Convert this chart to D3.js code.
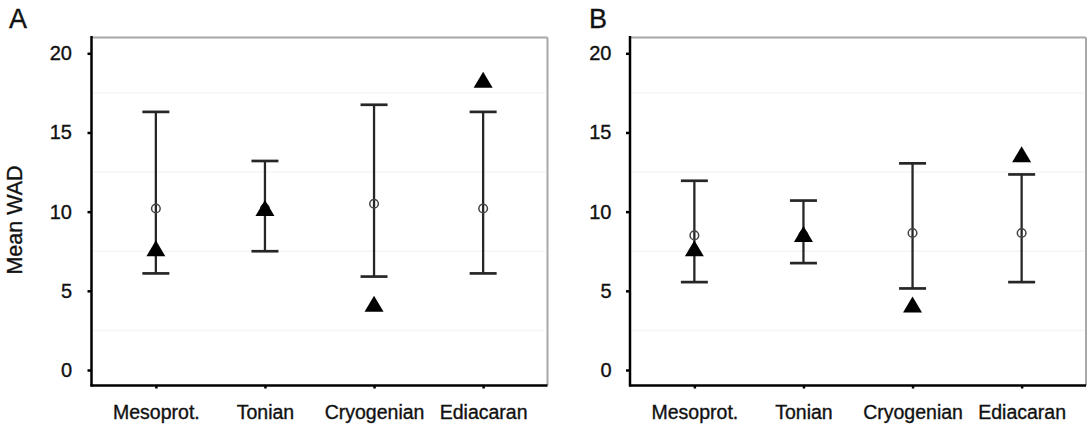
<!DOCTYPE html>
<html>
<head>
<meta charset="utf-8">
<script src="https://cdn.jsdelivr.net/npm/d3@7"></script>
<style>
  html, body { margin: 0; padding: 0; background: #fff; }
  svg { display: block; }
  text { font-family: "Liberation Sans", Arial, Helvetica, sans-serif; fill: #111; stroke: #111; stroke-width: 0.35px; }
</style>
</head>
<body>
<svg id="chart" width="1090" height="427"></svg>
<script>
// ---- data ----
const categories = ["Mesoprot.", "Tonian", "Cryogenian", "Ediacaran"];
const yTicks = [0, 5, 10, 15, 20];
const gridValues = [2.5, 7.5, 12.5, 17.5];

const upperA    = [16.3, 13.2, 16.75, 16.3];
const lowerA    = [6.1, 7.5, 5.9, 6.1];
const meanA     = [10.2, 10.2, 10.5, 10.2];
const triangleA = [7.65, 10.2, 4.15, 18.3];

const upperB    = [11.95, 10.7, 13.05, 12.35];
const lowerB    = [5.55, 6.75, 5.15, 5.55];
const meanB     = [8.5, 8.5, 8.65, 8.65];
const triangleB = [7.65, 8.55, 4.1, 13.6];

const panelLabels = ["A", "B"];
const yLabel = "Mean WAD";

// ---- layout ----
const svg = d3.select("#chart");
const frameTop = 37.5, frameBottom = 385.5;
const y = d3.scaleLinear().domain([0, 20]).range([370, 53.3]);

const panels = [
  { label: panelLabels[0], left: 91.5, right: 547.5, upper: upperA, lower: lowerA, mean: meanA, tri: triangleA, labelX: 9, tickOff: 19.5 },
  { label: panelLabels[1], left: 630, right: 1086, upper: upperB, lower: lowerB, mean: meanB, tri: triangleB, labelX: 589, tickOff: 18.5 }
];

panels.forEach(p => {
  const g = svg.append("g");
  const x = d3.scalePoint().domain(categories).range([p.left, p.right]).padding(0.59);

  // faint grid
  g.selectAll("line.grid").data(gridValues).enter().append("line")
    .attr("x1", p.left + 2).attr("x2", p.right - 2)
    .attr("y1", d => y(d)).attr("y2", d => y(d))
    .attr("stroke", "#f5f5f5").attr("stroke-width", 1.5);

  // top & right frame (grey)
  g.append("line").attr("x1", p.left).attr("x2", p.right).attr("y1", frameTop).attr("y2", frameTop)
    .attr("stroke", "#a8a8a8").attr("stroke-width", 2);
  g.append("line").attr("x1", p.right).attr("x2", p.right).attr("y1", frameTop).attr("y2", frameBottom)
    .attr("stroke", "#a8a8a8").attr("stroke-width", 2);

  // left axis
  const yAxis = d3.axisLeft(y).tickValues(yTicks).tickSize(4).tickPadding(p.tickOff - 4);
  const ya = g.append("g").attr("transform", `translate(${p.left},0)`).call(yAxis);
  ya.select(".domain").remove();
  ya.selectAll(".tick line").attr("stroke", "#000").attr("stroke-width", 2.5);
  ya.selectAll(".tick text").attr("font-size", 20).attr("fill", "#111")
    .attr("font-family", '"Liberation Sans", Arial, Helvetica, sans-serif');
  g.append("line").attr("x1", p.left).attr("x2", p.left).attr("y1", frameTop - 1.5).attr("y2", frameBottom + 1)
    .attr("stroke", "#000").attr("stroke-width", 2.5);

  // bottom axis
  const xAxis = d3.axisBottom(x).tickSize(3).tickPadding(17);
  const xa = g.append("g").attr("transform", `translate(0,${frameBottom})`).call(xAxis);
  xa.select(".domain").remove();
  xa.selectAll(".tick line").attr("stroke", "#000").attr("stroke-width", 2.5);
  xa.selectAll(".tick text").attr("font-size", 19.5).attr("fill", "#111")
    .attr("font-family", '"Liberation Sans", Arial, Helvetica, sans-serif');
  g.append("line").attr("x1", p.left - 1).attr("x2", p.right).attr("y1", frameBottom).attr("y2", frameBottom)
    .attr("stroke", "#000").attr("stroke-width", 2.5);

  // error bars
  const capW = 13.5;
  const rows = categories.map((c, i) => ({ c, hi: p.upper[i], lo: p.lower[i], m: p.mean[i], t: p.tri[i] }));
  const eb = g.selectAll("g.eb").data(rows).enter().append("g");
  eb.append("line").attr("x1", d => x(d.c)).attr("x2", d => x(d.c))
    .attr("y1", d => y(d.hi)).attr("y2", d => y(d.lo))
    .attr("stroke", "#262626").attr("stroke-width", 2.3);
  eb.append("line").attr("x1", d => x(d.c) - capW).attr("x2", d => x(d.c) + capW)
    .attr("y1", d => y(d.hi)).attr("y2", d => y(d.hi))
    .attr("stroke", "#262626").attr("stroke-width", 2.7);
  eb.append("line").attr("x1", d => x(d.c) - capW).attr("x2", d => x(d.c) + capW)
    .attr("y1", d => y(d.lo)).attr("y2", d => y(d.lo))
    .attr("stroke", "#262626").attr("stroke-width", 2.7);
  // mean circles
  eb.append("circle").attr("cx", d => x(d.c)).attr("cy", d => y(d.m)).attr("r", 4.3)
    .attr("fill", "none").attr("stroke", "#444").attr("stroke-width", 1.5);
  // triangles
  eb.append("path")
    .attr("d", d => {
      const cx = x(d.c), cy = y(d.t);
      return `M${cx},${cy - 8.5}L${cx + 9.5},${cy + 7.5}L${cx - 9.5},${cy + 7.5}Z`;
    })
    .attr("fill", "#000");

  // panel label
  svg.append("text").attr("x", p.labelX).attr("y", 28).attr("font-size", 27).text(p.label);
});

// y label
svg.append("text")
  .attr("transform", "translate(22,220) rotate(-90)")
  .attr("text-anchor", "middle")
  .attr("font-size", 21.5)
  .text(yLabel);
</script>
</body>
</html>
